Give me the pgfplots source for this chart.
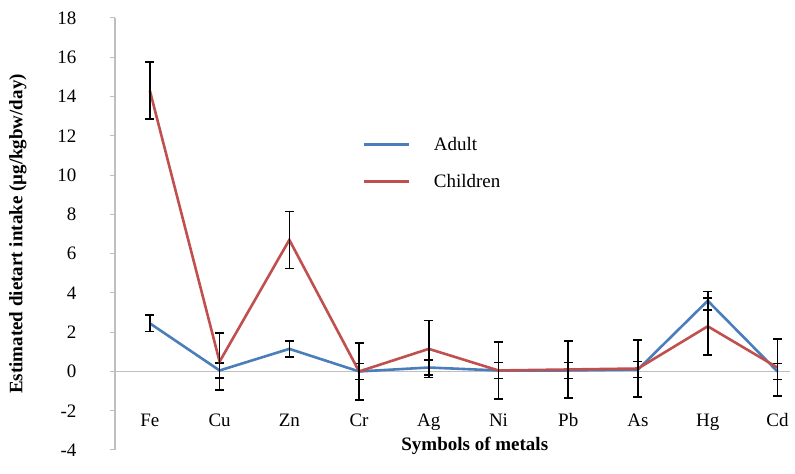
\documentclass[border=0pt]{standalone}
\usepackage{fontspec}
\setmainfont{Liberation Serif}
\usepackage{pgfplots}
\pgfplotsset{compat=1.18}
\definecolor{adultblue}{RGB}{74,126,187}
\definecolor{childred}{RGB}{192,80,77}
\definecolor{axgray}{RGB}{190,190,190}
\begin{document}
\begin{tikzpicture}
\useasboundingbox (0,0) rectangle (795bp,474bp);
\begin{axis}[
  at={(115bp,24bp)}, anchor=south west,
  scale only axis, width=675bp, height=432bp,
  xmin=-0.5, xmax=9.18, ymin=-4, ymax=18,
  axis x line=middle, axis y line=left,
  hide obscured x ticks=false, hide obscured y ticks=false,
  axis line style={-, axgray, line width=1.3bp},
  xtick={0,...,9}, xticklabels={Fe,Cu,Zn,Cr,Ag,Ni,Pb,As,Hg,Cd},
  ytick={-4,-2,...,18},
  tick align=outside, major tick length=5bp,
  x tick style={draw=none},
  y tick style={axgray, line width=1bp},
  tick label style={font=\fontsize{19bp}{22bp}\selectfont},
  /pgf/number format/assume math mode=true,
  yticklabel style={anchor=east, xshift=-30bp},
  xticklabel style={anchor=base, yshift=-50bp},
  label style={font=\fontsize{19bp}{22bp}\selectfont\bfseries},
  xlabel={Symbols of metals},
  xlabel style={at={(axis description cs:0.533,0.01)}, anchor=center},
  ylabel={Estimated dietart intake (µg/kgbw/day)},
  ylabel style={at={(axis description cs:-0.1437,0.5)}, anchor=center, rotate=0},
  legend style={at={(axis description cs:0.366,0.729)}, anchor=north west,
    draw=none, fill=none, inner sep=0pt, row sep=18bp,
    font=\fontsize{19bp}{22bp}\selectfont,
    /tikz/every odd column/.append style={column sep=22bp}},
  legend cell align=left,
  legend image code/.code={\draw[#1] (0bp,0bp) -- (45bp,0bp);},
  clip=false,
]
\addplot[adultblue, line width=2.6bp, mark=none,
  error bars/.cd, y dir=both, y explicit,
  error bar style={black, line width=1.6bp},
  error mark options={rotate=90, mark size=4.5bp, black, line width=1.6bp}]
coordinates {
 (0,2.45) +- (0,0.42)
 (1,0.05) +- (0,0.38)
 (2,1.15) +- (0,0.40)
 (3,0.00) +- (0,0.40)
 (4,0.20) +- (0,0.38)
 (5,0.05) +- (0,0.40)
 (6,0.05) +- (0,0.40)
 (7,0.10) +- (0,0.40)
 (8,3.60) +- (0,0.47)
 (9,0.00) +- (0,0.40)
};
\addlegendentry{Adult}
\addplot[childred, line width=2.6bp, mark=none,
  error bars/.cd, y dir=both, y explicit,
  error bar style={black, line width=1.6bp},
  error mark options={rotate=90, mark size=4.5bp, black, line width=1.6bp}]
coordinates {
 (0,14.30) +- (0,1.45)
 (1,0.50) +- (0,1.45)
 (2,6.70) +- (0,1.45)
 (3,0.00) +- (0,1.45)
 (4,1.15) +- (0,1.45)
 (5,0.05) +- (0,1.45)
 (6,0.10) +- (0,1.45)
 (7,0.15) +- (0,1.45)
 (8,2.30) +- (0,1.45)
 (9,0.20) +- (0,1.45)
};
\addlegendentry{Children}
\end{axis}
\end{tikzpicture}
\end{document}
